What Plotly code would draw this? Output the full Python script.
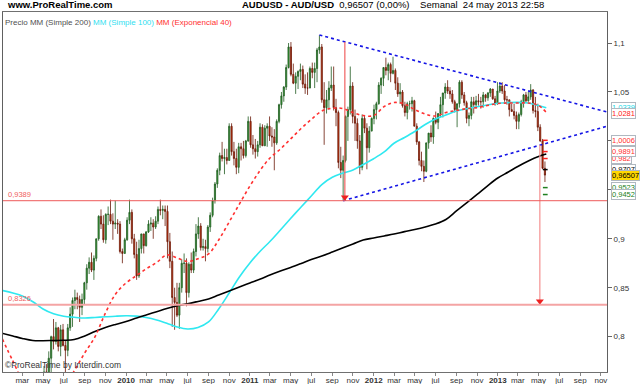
import plotly.graph_objects as go
import pandas as pd

# ---------------- weekly candles (AUD/USD), week start Mondays ----------------
ohlc_2009 = [
    (0.7100, 0.7240, 0.7030, 0.7190), (0.7190, 0.7300, 0.7070, 0.7110), (0.7110, 0.7280, 0.6950, 0.7250),
    (0.7250, 0.7390, 0.7150, 0.7330), (0.7330, 0.7700, 0.7280, 0.7640), (0.7640, 0.7720, 0.7440, 0.7560),
    (0.7560, 0.7850, 0.7540, 0.7780), (0.7780, 0.8010, 0.7630, 0.8000), (0.8000, 0.8180, 0.7870, 0.7950),
    (0.7950, 0.8150, 0.7920, 0.8090), (0.8090, 0.8100, 0.7850, 0.7900), (0.7900, 0.8120, 0.7800, 0.8070),
    (0.8070, 0.8130, 0.7900, 0.7910), (0.7910, 0.7960, 0.7620, 0.7860), (0.7860, 0.8130, 0.7800, 0.8090),
    (0.8090, 0.8300, 0.8060, 0.8230), (0.8230, 0.8400, 0.8100, 0.8370), (0.8370, 0.8480, 0.8280, 0.8400),
    (0.8400, 0.8450, 0.8280, 0.8380), (0.8380, 0.8420, 0.8150, 0.8300), (0.8300, 0.8440, 0.8220, 0.8380),
    (0.8380, 0.8560, 0.8330, 0.8550), (0.8550, 0.8740, 0.8480, 0.8700), (0.8700, 0.8810, 0.8640, 0.8760),
    (0.8760, 0.8860, 0.8660, 0.8680), (0.8680, 0.8830, 0.8580, 0.8800), (0.8800, 0.9000, 0.8770, 0.9000),
    (0.9000, 0.9240, 0.8980, 0.9230), (0.9230, 0.9300, 0.9100, 0.9150), (0.9150, 0.9240, 0.8960, 0.8990),
    (0.8990, 0.9260, 0.8950, 0.9250), (0.9250, 0.9330, 0.9140, 0.9250), (0.9250, 0.9400, 0.9150, 0.9180),
    (0.9180, 0.9260, 0.8990, 0.9150), (0.9150, 0.9390, 0.9100, 0.9160), (0.9160, 0.9200, 0.9050, 0.9150),
    (0.9150, 0.9180, 0.8850, 0.8870), (0.8870, 0.8900, 0.8750, 0.8850), (0.8850, 0.9010, 0.8850, 0.8990),
]
ohlc_2010 = [
    (0.8990, 0.9220, 0.8980, 0.9190), (0.9190, 0.9400, 0.9150, 0.9270), (0.9270, 0.9300, 0.8950, 0.9000),
    (0.9000, 0.9050, 0.8800, 0.8840), (0.8840, 0.8970, 0.8580, 0.8620), (0.8620, 0.8990, 0.8600, 0.8900),
    (0.8900, 0.9050, 0.8850, 0.9050), (0.9050, 0.9050, 0.8850, 0.8930), (0.8930, 0.9080, 0.8920, 0.9070),
    (0.9070, 0.9190, 0.9060, 0.9150), (0.9150, 0.9220, 0.9080, 0.9160), (0.9160, 0.9200, 0.9000, 0.9120),
    (0.9120, 0.9230, 0.9100, 0.9180), (0.9180, 0.9330, 0.9150, 0.9300), (0.9300, 0.9400, 0.9240, 0.9290),
    (0.9290, 0.9340, 0.9200, 0.9300), (0.9300, 0.9340, 0.9130, 0.9280), (0.9280, 0.9340, 0.8800, 0.8970),
    (0.8970, 0.9060, 0.8700, 0.8770), (0.8770, 0.8870, 0.8100, 0.8400), (0.8400, 0.8500, 0.8070, 0.8350),
    (0.8350, 0.8550, 0.8200, 0.8220), (0.8220, 0.8550, 0.8080, 0.8500), (0.8500, 0.8790, 0.8450, 0.8750),
    (0.8750, 0.8850, 0.8650, 0.8750), (0.8750, 0.8800, 0.8310, 0.8450), (0.8450, 0.8760, 0.8400, 0.8740),
    (0.8740, 0.8860, 0.8650, 0.8680), (0.8680, 0.8900, 0.8650, 0.8870), (0.8870, 0.9150, 0.8820, 0.9050),
    (0.9050, 0.9220, 0.9000, 0.9130), (0.9130, 0.9160, 0.8880, 0.8910), (0.8910, 0.9000, 0.8880, 0.8920),
    (0.8920, 0.8990, 0.8770, 0.8900), (0.8900, 0.9140, 0.8860, 0.9120), (0.9120, 0.9270, 0.9070, 0.9240),
    (0.9240, 0.9420, 0.9220, 0.9390), (0.9390, 0.9580, 0.9360, 0.9560), (0.9560, 0.9720, 0.9520, 0.9700),
    (0.9700, 0.9880, 0.9650, 0.9850), (0.9850, 0.9990, 0.9790, 0.9820), (0.9820, 0.9920, 0.9660, 0.9830),
    (0.9830, 0.9920, 0.9760, 0.9800), (0.9800, 1.0180, 0.9800, 1.0150), (1.0150, 1.0180, 0.9850, 0.9890),
    (0.9890, 0.9990, 0.9750, 0.9820), (0.9820, 0.9920, 0.9660, 0.9730), (0.9730, 0.9980, 0.9670, 0.9940),
    (0.9940, 0.9980, 0.9800, 0.9920), (0.9920, 1.0000, 0.9820, 0.9850), (0.9850, 1.0010, 0.9830, 1.0000),
    (1.0000, 1.0250, 0.9990, 1.0200),
]
ohlc_2011 = [
    (1.0200, 1.0250, 0.9930, 0.9960), (0.9960, 1.0060, 0.9860, 0.9920), (0.9920, 1.0020, 0.9820, 0.9890),
    (0.9890, 1.0000, 0.9840, 0.9960), (0.9960, 1.0180, 0.9930, 1.0140), (1.0140, 1.0170, 0.9950, 0.9950),
    (0.9950, 1.0160, 0.9950, 1.0130), (1.0130, 1.0180, 0.9940, 1.0150), (1.0150, 1.0250, 1.0000, 1.0050),
    (1.0050, 1.0140, 0.9940, 1.0040), (1.0040, 1.0120, 0.9700, 0.9980), (0.9980, 1.0220, 0.9960, 1.0200),
    (1.0200, 1.0380, 1.0180, 1.0370), (1.0370, 1.0500, 1.0330, 1.0460), (1.0460, 1.0560, 1.0400, 1.0550),
    (1.0550, 1.0780, 1.0520, 1.0750), (1.0750, 1.1000, 1.0740, 1.0960), (1.0960, 1.1010, 1.0660, 1.0680),
    (1.0680, 1.0790, 1.0580, 1.0590), (1.0590, 1.0700, 1.0480, 1.0660), (1.0660, 1.0720, 1.0530, 1.0710),
    (1.0710, 1.0790, 1.0620, 1.0730), (1.0730, 1.0770, 1.0540, 1.0580), (1.0580, 1.0680, 1.0480, 1.0540),
    (1.0540, 1.0700, 1.0470, 1.0540), (1.0540, 1.0760, 1.0540, 1.0740), (1.0740, 1.0800, 1.0640, 1.0700),
    (1.0700, 1.0800, 1.0540, 1.0740), (1.0740, 1.0950, 1.0600, 1.0930), (1.0930, 1.1080, 1.0890, 1.0960),
    (1.0960, 1.0990, 1.0390, 1.0420), (1.0420, 1.0600, 0.9960, 1.0340), (1.0340, 1.0520, 1.0280, 1.0420),
    (1.0420, 1.0610, 1.0320, 1.0540), (1.0540, 1.0760, 1.0510, 1.0570), (1.0570, 1.0760, 1.0310, 1.0340),
    (1.0340, 1.0430, 1.0150, 1.0290), (1.0290, 1.0310, 0.9720, 0.9780), (0.9780, 0.9940, 0.9620, 0.9700),
    (0.9700, 0.9850, 0.9387, 0.9800), (0.9800, 1.0260, 0.9780, 1.0250), (1.0250, 1.0350, 1.0000, 1.0320),
    (1.0320, 1.0760, 1.0270, 1.0560), (1.0560, 1.0600, 1.0180, 1.0250), (1.0250, 1.0320, 1.0000, 1.0180),
    (1.0180, 1.0230, 0.9920, 1.0000), (1.0000, 1.0060, 0.9660, 0.9730), (0.9730, 1.0270, 0.9700, 1.0230),
    (1.0230, 1.0260, 1.0080, 1.0130), (1.0130, 1.0180, 0.9710, 0.9930), (0.9930, 1.0150, 0.9880, 1.0100),
    (1.0100, 1.0240, 1.0100, 1.0230),
]
ohlc_2012 = [
    (1.0230, 1.0370, 1.0170, 1.0320), (1.0320, 1.0400, 1.0220, 1.0380), (1.0380, 1.0600, 1.0370, 1.0570),
    (1.0570, 1.0650, 1.0480, 1.0640), (1.0640, 1.0750, 1.0560, 1.0750), (1.0750, 1.0850, 1.0670, 1.0720),
    (1.0720, 1.0800, 1.0620, 1.0780), (1.0780, 1.0800, 1.0600, 1.0690), (1.0690, 1.0860, 1.0680, 1.0720),
    (1.0720, 1.0740, 1.0520, 1.0590), (1.0590, 1.0650, 1.0450, 1.0480), (1.0480, 1.0590, 1.0380, 1.0500),
    (1.0500, 1.0520, 1.0340, 1.0360), (1.0360, 1.0400, 1.0250, 1.0290), (1.0290, 1.0400, 1.0220, 1.0380),
    (1.0380, 1.0410, 1.0320, 1.0380), (1.0380, 1.0450, 1.0300, 1.0410), (1.0410, 1.0420, 1.0150, 1.0150),
    (1.0150, 1.0180, 0.9960, 0.9990), (0.9990, 1.0000, 0.9750, 0.9800), (0.9800, 0.9890, 0.9690, 0.9740),
    (0.9740, 0.9800, 0.9580, 0.9690), (0.9690, 0.9980, 0.9680, 0.9980), (0.9980, 1.0080, 0.9920, 1.0080),
    (1.0080, 1.0160, 0.9990, 1.0040), (1.0040, 1.0240, 0.9970, 1.0230), (1.0230, 1.0300, 1.0170, 1.0190),
    (1.0190, 1.0280, 1.0120, 1.0280), (1.0280, 1.0450, 1.0240, 1.0370), (1.0370, 1.0490, 1.0240, 1.0490),
    (1.0490, 1.0590, 1.0430, 1.0550), (1.0550, 1.0620, 1.0480, 1.0510), (1.0510, 1.0550, 1.0430, 1.0480),
    (1.0480, 1.0520, 1.0380, 1.0400), (1.0400, 1.0420, 1.0290, 1.0320), (1.0320, 1.0380, 1.0140, 1.0380),
    (1.0380, 1.0620, 1.0340, 1.0600), (1.0600, 1.0620, 1.0430, 1.0470), (1.0470, 1.0500, 1.0360, 1.0390),
    (1.0390, 1.0410, 1.0180, 1.0230), (1.0230, 1.0290, 1.0150, 1.0260), (1.0260, 1.0450, 1.0220, 1.0400),
    (1.0400, 1.0450, 1.0280, 1.0370), (1.0370, 1.0460, 1.0330, 1.0410), (1.0410, 1.0480, 1.0360, 1.0400),
    (1.0400, 1.0450, 1.0330, 1.0400), (1.0400, 1.0500, 1.0340, 1.0470), (1.0470, 1.0480, 1.0400, 1.0440),
    (1.0440, 1.0500, 1.0410, 1.0490), (1.0490, 1.0540, 1.0450, 1.0530), (1.0530, 1.0530, 1.0420, 1.0430),
    (1.0430, 1.0460, 1.0360, 1.0380),
]
ohlc_2013 = [
    (1.0380, 1.0600, 1.0370, 1.0510), (1.0510, 1.0600, 1.0490, 1.0560), (1.0560, 1.0600, 1.0480, 1.0510),
    (1.0510, 1.0570, 1.0400, 1.0420), (1.0420, 1.0460, 1.0370, 1.0420), (1.0420, 1.0420, 1.0250, 1.0320),
    (1.0320, 1.0380, 1.0300, 1.0300), (1.0300, 1.0380, 1.0220, 1.0260), (1.0260, 1.0300, 1.0120, 1.0200),
    (1.0200, 1.0290, 1.0120, 1.0270), (1.0270, 1.0420, 1.0250, 1.0400), (1.0400, 1.0480, 1.0340, 1.0470),
    (1.0470, 1.0500, 1.0390, 1.0410), (1.0410, 1.0500, 1.0400, 1.0450), (1.0450, 1.0580, 1.0420, 1.0520),
    (1.0520, 1.0530, 1.0280, 1.0310), (1.0310, 1.0450, 1.0240, 1.0300), (1.0300, 1.0380, 1.0100, 1.0140),
    (1.0140, 1.0170, 0.9990, 1.0000), (1.0000, 1.0020, 0.9710, 0.9720), (0.9720, 0.9790, 0.9580, 0.96507),
]

rows = ohlc_2009 + ohlc_2010 + ohlc_2011 + ohlc_2012 + ohlc_2013
week_dates = pd.date_range("2009-04-06", periods=len(rows), freq="W-MON")
opens = [r[0] for r in rows]
highs = [r[1] for r in rows]
lows = [r[2] for r in rows]
closes = [r[3] for r in rows]

# ---------------- moving averages read at month starts ----------------
ma_dates = pd.date_range("2009-01-01", "2013-05-01", freq="MS").strftime("%Y-%m-%d").tolist() + ["2013-05-24"]
sma200 = [0.8034, 0.8007, 0.7982, 0.7961, 0.7959, 0.7961, 0.7963, 0.7971, 0.8007, 0.8053, 0.8094, 0.8125,
          0.8154, 0.8191, 0.8222, 0.8255, 0.8288, 0.8316, 0.8336, 0.8360, 0.8385, 0.8426, 0.8467, 0.8508,
          0.8549, 0.8589, 0.8630, 0.8671, 0.8707, 0.8748, 0.8789, 0.8824, 0.8865, 0.8906, 0.8947, 0.8988,
          0.9008, 0.9029, 0.9049, 0.9073, 0.9095, 0.9121, 0.9151, 0.9197, 0.9284, 0.9366, 0.9453, 0.9539,
          0.9621, 0.9682, 0.9739, 0.9795, 0.9841, 0.9866]
sma100 = [0.8472, 0.8446, 0.8416, 0.8357, 0.8283, 0.8234, 0.8209, 0.8198, 0.8191, 0.8196, 0.8203, 0.8209,
          0.8213, 0.8210, 0.8196, 0.8171, 0.8138, 0.8099, 0.8079, 0.8094, 0.8150, 0.8283, 0.8446, 0.8610,
          0.8753, 0.8875, 0.8972, 0.9090, 0.9207, 0.9325, 0.9437, 0.9554, 0.9629, 0.9669, 0.9703, 0.9759,
          0.9818, 0.9887, 0.9976, 1.0035, 1.0096, 1.0167, 1.0224, 1.0265, 1.0305, 1.0328, 1.0349, 1.0367,
          1.0384, 1.0391, 1.0394, 1.0387, 1.0362, 1.0339]
ema40 = [0.7977, 0.7752, 0.7558, 0.7435, 0.7384, 0.7394, 0.7466, 0.7650, 0.7833, 0.7997, 0.8242, 0.8436,
         0.8549, 0.8625, 0.8692, 0.8758, 0.8835, 0.8805, 0.8768, 0.8797, 0.8845, 0.8988, 0.9172, 0.9355,
         0.9539, 0.9703, 0.9825, 0.9917, 1.0019, 1.0127, 1.0219, 1.0305, 1.0334, 1.0331, 1.0290, 1.0259,
         1.0259, 1.0351, 1.0392, 1.0377, 1.0321, 1.0275, 1.0254, 1.0290, 1.0311, 1.0329, 1.0341, 1.0362,
         1.0382, 1.0387, 1.0387, 1.0387, 1.0362, 1.0290]

# ---------------- annotations data ----------------
tri_upper = (["2011-07-25", "2013-11-19"], [1.1082, 1.0295])
tri_lower = (["2011-10-03", "2013-11-19"], [0.9389, 1.0150])
support_level = 0.9389
target_level = 0.8326
measure1 = ("2011-10-08", 1.1011, 0.9389)
measure2 = ("2013-05-05", 0.9960, 0.8326)
pivot_red = [1.0006, 0.9891, 0.9820]
pivot_black = [0.9707]
pivot_green = [0.9523, 0.9452]
last_price = 0.96507

x_ticks = ["2009-03-01", "2009-05-01", "2009-07-01", "2009-09-01", "2009-11-01",
           "2010-01-01", "2010-03-01", "2010-05-01", "2010-07-01", "2010-09-01", "2010-11-01",
           "2011-01-01", "2011-03-01", "2011-05-01", "2011-07-01", "2011-09-01", "2011-11-01",
           "2012-01-01", "2012-03-01", "2012-05-01", "2012-07-01", "2012-09-01", "2012-11-01",
           "2013-01-01", "2013-03-01", "2013-05-01", "2013-07-01", "2013-09-01", "2013-11-01"]
x_labels = ["mar", "may", "jul", "sep", "nov",
            "<b>2010</b>", "mar", "may", "jul", "sep", "nov",
            "<b>2011</b>", "mar", "may", "jul", "sep", "nov",
            "<b>2012</b>", "mar", "may", "jul", "sep", "nov",
            "<b>2013</b>", "mar", "may", "jul", "sep", "nov"]
y_ticks = [0.8, 0.85, 0.9, 0.95, 1.0, 1.05, 1.1]
y_labels = ["0,8", "0,85", "0,9", "", "", "1,05", "1,1"]  # 0,95 and 1 are hidden behind value tags

FONT = "Arial, Liberation Sans, sans-serif"
RED = "#ff3030"
CYAN = "#30e8f0"

fig = go.Figure()

fig.add_trace(go.Scatter(x=ma_dates, y=sma100, mode="lines", line=dict(color=CYAN, width=1.6, shape="spline"),
                         hoverinfo="skip", showlegend=False))
fig.add_trace(go.Scatter(x=ma_dates, y=sma200, mode="lines", line=dict(color="#000000", width=1.6, shape="spline"),
                         hoverinfo="skip", showlegend=False))
fig.add_trace(go.Scatter(x=ma_dates, y=ema40, mode="lines", line=dict(color=RED, width=1.6, dash="dot", shape="spline"),
                         hoverinfo="skip", showlegend=False))

fig.add_trace(go.Candlestick(
    x=week_dates, open=opens, high=highs, low=lows, close=closes,
    increasing=dict(line=dict(color="#1f5a1f", width=0.8), fillcolor="#3aa03a"),
    decreasing=dict(line=dict(color="#6a1808", width=0.8), fillcolor="#d23a10"),
    whiskerwidth=0, showlegend=False, hoverinfo="skip"))

# triangle lines
for xs, ys in (tri_upper, tri_lower):
    fig.add_trace(go.Scatter(x=xs, y=ys, mode="lines", line=dict(color="#1414e6", width=1.6, dash="dot"),
                             hoverinfo="skip", showlegend=False))

# horizontal levels
fig.add_hline(y=support_level, line=dict(color="#ee5a5a", width=1))
fig.add_hline(y=target_level, line=dict(color="#f4a4a4", width=2))

# measured-move verticals with arrowheads
for (d, top, bot), col in ((measure1, "#f06060"), (measure2, "#f49090")):
    fig.add_trace(go.Scatter(x=[d, d], y=[top, bot], mode="lines", line=dict(color=col, width=1.2),
                             hoverinfo="skip", showlegend=False))
    fig.add_trace(go.Scatter(x=[d], y=[bot + 0.0035], mode="markers",
                             marker=dict(symbol="triangle-down", size=7, color="#ee2020"),
                             hoverinfo="skip", showlegend=False))

# pivot dashes near last candle
for vals, col in ((pivot_red, "#ff2020"), (pivot_black, "#000000"), (pivot_green, "#208020")):
    for v in vals:
        fig.add_shape(type="line", xref="x", yref="y", x0="2013-05-14", x1="2013-05-28", y0=v, y1=v,
                      line=dict(color=col, width=1.5))

annotations = []
# header
annotations.append(dict(xref="paper", yref="paper", x=0.003, y=1.0195, xanchor="left", yanchor="middle",
                        text="<b>www.ProRealTime.com</b>", showarrow=False,
                        font=dict(family=FONT, size=9.5, color="#000")))
annotations.append(dict(xref="paper", yref="paper", x=0.392, y=1.0195, xanchor="left", yanchor="middle",
                        text="<b>AUDUSD - AUD/USD</b>  0,96507 (0,00%)    Semanal  24 may 2013 22:58",
                        showarrow=False, font=dict(family=FONT, size=9.5, color="#000")))
# indicator legend
annotations.append(dict(xref="paper", yref="paper", x=0.0, y=0.99, xanchor="left", yanchor="top",
                        text=("<span style='color:#505050'>Precio MM (Simple 200)</span> "
                              "<span style='color:#30e0f0'>MM (Simple 100)</span> "
                              "<span style='color:#ff3030'>MM (Exponencial 40)</span>"),
                        showarrow=False, font=dict(family=FONT, size=8)))
# copyright
annotations.append(dict(xref="paper", yref="paper", x=0.0, y=0.0, xanchor="left", yanchor="bottom",
                        text="©ProRealTime by Interdin.com", showarrow=False,
                        font=dict(family=FONT, size=8.5, color="#333")))
# level labels
for lvl in (support_level, target_level):
    annotations.append(dict(xref="paper", yref="y", x=0.005, y=lvl, xanchor="left", yanchor="bottom",
                            text=f"{lvl:.4f}".replace(".", ","), showarrow=False,
                            font=dict(family=FONT, size=7.5, color="#f06060")))
# right-hand value tags
tags = [
    (1.0339, "1,0339", "#20d8e8", "white"),
    (1.0281, "1,0281", "#ff2020", "white"),
    (1.0006, "1,0006", "#ff3030", "white"),
    (0.9820, "0,982", "#ff3030", "white"),
    (0.9891, "0,9891", "#ff3030", "white"),
    (0.9707, "0,9707", "#000000", "white"),
    (last_price, "0,96507", "#000000", "#ffd700"),
    (0.9523, "0,9523", "#208020", "white"),
    (0.9452, "0,9452", "#208020", "white"),
]
for v, t, c, bg in tags:
    annotations.append(dict(xref="paper", yref="y", x=1.0066, y=v, xanchor="left", yanchor="middle",
                            text=t, showarrow=False, bgcolor=bg, bordercolor="#b0b8c0", borderwidth=1,
                            borderpad=0, font=dict(family=FONT, size=7.5, color=c)))

fig.update_layout(
    width=640, height=384,
    margin=dict(l=3, r=33, t=12, b=12, autoexpand=False),
    paper_bgcolor="white", plot_bgcolor="white",
    showlegend=False,
    annotations=annotations,
    xaxis=dict(type="date", range=["2009-01-03", "2013-11-19"], rangeslider=dict(visible=False),
               tickvals=x_ticks, ticktext=x_labels, ticks="outside", ticklen=3, tickcolor="#888",
               ticklabelstandoff=-3,
               tickfont=dict(family=FONT, size=8, color="#333"), showgrid=False, zeroline=False,
               showline=True, linecolor="#707070", mirror=True, fixedrange=True, automargin=False),
    yaxis=dict(side="right", range=[0.7639, 1.1317], tickvals=y_ticks, ticktext=y_labels,
               ticks="outside", ticklen=4, tickcolor="#666",
               tickfont=dict(family=FONT, size=8, color="#333"), showgrid=False, zeroline=False,
               showline=True, linecolor="#606060", mirror=True, fixedrange=True, automargin=False),
)

fig.write_html("out.html", config={"displayModeBar": False, "staticPlot": True},
               post_script="document.body.style.margin='0px';document.body.style.padding='0px';")
